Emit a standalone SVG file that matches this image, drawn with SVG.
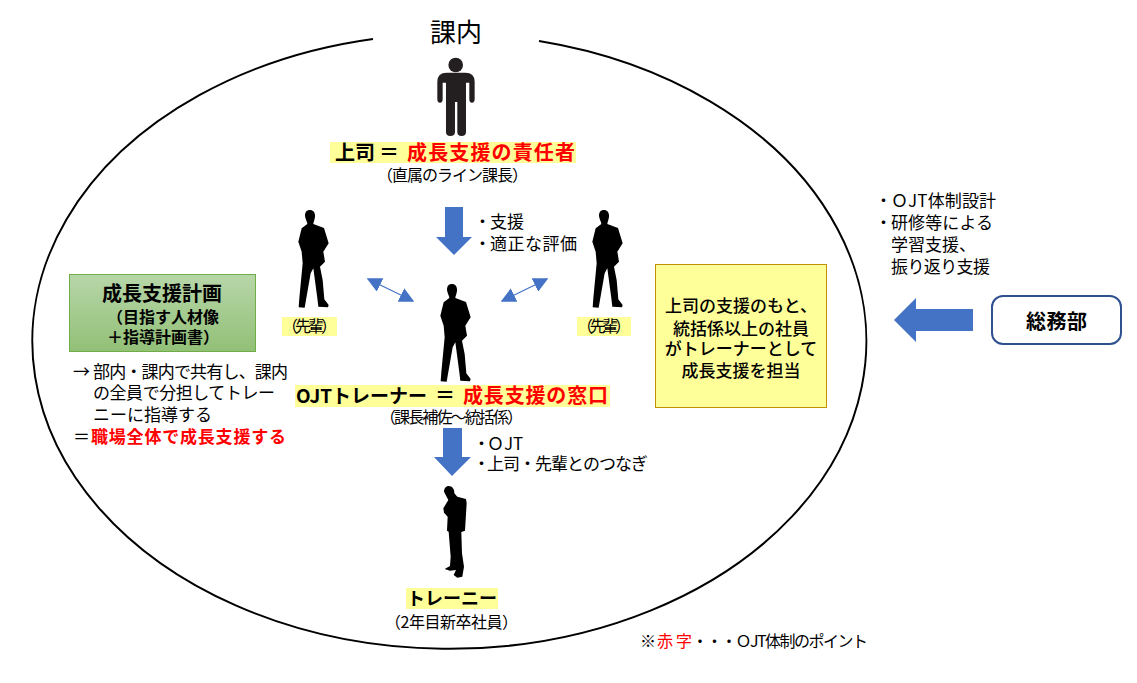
<svg xmlns="http://www.w3.org/2000/svg" width="1137" height="683" viewBox="0 0 1137 683">
<style>
text{font-family:"Noto Sans CJK JP","Noto Sans",sans-serif;font-size:17px;fill:#000}
.b{font-weight:700}
.m{font-weight:500}
.r{fill:#f00}
.c{text-anchor:middle}
.hl{fill:#ffff99}
.blue{fill:#4472c4}
.dbl{stroke:#4472c4;stroke-width:1.2;fill:none;marker-start:url(#tri);marker-end:url(#tri)}
</style>
<defs>
<marker id="tri" viewBox="0 0 10 10" refX="9" refY="5" markerWidth="15" markerHeight="15" markerUnits="userSpaceOnUse" orient="auto-start-reverse"><path d="M0 0L10 5L0 10Z" fill="#4472c4"/></marker>
<linearGradient id="green" x1="0" y1="0" x2="0" y2="1"><stop offset="0" stop-color="#b7d6a9"/><stop offset="1" stop-color="#92c077"/></linearGradient>
<path id="man" d="M90 30C100 30 106 38 105 50C104 60 100 66 100 72L132 84L146 130L130 155L135 185L120 200L128 240L133 298L146 315L144 322L115 320L112 295L100 205L92 220L78 300L74 323L56 322L58 295L68 190L65 155L55 125L65 85L82 72C82 65 76 58 75 48C75 36 80 30 90 30Z" fill="#000"/>
</defs>
<rect width="1137" height="683" fill="#fff"/>

<g id="connectors">
<path id="circle" d="M539 41A417 307.5 0 1 1 373 39" fill="none" stroke="#000" stroke-width="2"/>
<path class="blue" d="M445 207H463V237H472L454 255L436 237H445Z"/>
<path class="blue" d="M443 428H462V457H471L452 476L434 457H443Z"/>
<path class="blue" d="M973 309V331H916V342L894 320L916 298V309Z"/>
<line class="dbl" x1="368" y1="279" x2="413" y2="301"/>
<line class="dbl" x1="547" y1="279" x2="502" y2="301"/>
</g>

<g id="title"><text x="430" y="42" style="font-size:26px">課内</text></g>

<g id="boss">
<circle cx="455.7" cy="65" r="7.3" fill="#231f20"/>
<path transform="translate(280 0) scale(.3333)" fill="#231f20" d="M500 218H556Q584 218 584 245V298Q584 308 576 308Q568 308 568 298V248H558V396Q558 408 545 408Q532 408 532 396V306H525V396Q525 408 511 408Q498 408 498 396V248H488V298Q488 308 480 308Q472 308 472 298V245Q472 218 500 218Z"/>
<rect class="hl" x="330" y="142" width="246" height="21"/>
<text class="b" x="335" y="160" style="font-size:20px" textLength="40">上司</text>
<text class="b" x="379" y="160" style="font-size:20px">＝</text>
<text class="b r" x="407" y="160" style="font-size:20px" textLength="168">成長支援の責任者</text>
<text x="377" y="181" style="font-size:16px" textLength="151">（直属のライン課長）</text>
</g>

<g id="senior-left">
<use href="#man" transform="translate(280 200) scale(.3333)"/>
<rect class="hl" x="282" y="317" width="55" height="19"/>
<text x="282" y="332" style="font-size:16px" textLength="55">（先輩）</text>
</g>

<g id="senior-right">
<use href="#man" transform="translate(574 200) scale(.3333)"/>
<rect class="hl" x="577" y="317" width="54" height="19"/>
<text x="577" y="332" style="font-size:16px" textLength="54">（先輩）</text>
</g>

<g id="trainer">
<use href="#man" transform="translate(422 274) scale(.3333)"/>
<rect class="hl" x="295" y="385" width="315" height="22"/>
<text class="b" x="296" y="403" style="font-size:19px" textLength="131">OJTトレーナー</text>
<text class="b" x="435" y="403" style="font-size:20px">＝</text>
<text class="b r" x="463" y="403" style="font-size:20px" textLength="145">成長支援の窓口</text>
<text x="380" y="423" style="font-size:16px" textLength="143">（課長補佐～統括係）</text>
</g>

<g id="trainee">
<path transform="translate(370 420) scale(.3333)" fill="#000" d="M236 198C247 198 254 208 253 220L262 230L288 237L290 250L285 332L274 336L276 400L282 440L277 470L262 473L251 465L258 450L240 452L224 447L240 438L242 410L236 335L231 332L233 290L222 278L220 265L235 240L222 215C222 205 228 198 236 198Z"/>
<rect class="hl" x="406" y="588" width="92" height="21"/>
<text class="b" x="407" y="605" style="font-size:18px" textLength="90">トレーニー</text>
<text x="385" y="628" style="font-size:16px" textLength="133">（2年目新卒社員）</text>
</g>

<g id="label-support">
<text x="474" y="228">・<tspan x="490">支援</tspan></text>
<text x="474" y="250">・<tspan x="490" textLength="87">適正な評価</tspan></text>
</g>

<g id="label-ojt">
<text x="473" y="450">・<tspan x="487">ＯJT</tspan></text>
<text x="473" y="470">・<tspan x="487" textLength="161">上司・先輩とのつなぎ</tspan></text>
</g>

<g id="plan">
<rect x="69.500" y="274.500" width="186" height="77" fill="url(#green)" stroke="#70ad47"/>
<text class="b c" x="162" y="301" style="font-size:20px">成長支援計画</text>
<text class="b c" x="163" y="323" style="font-size:16px">（目指す人材像</text>
<text class="b c" x="163" y="343" style="font-size:16px">＋指導計画書）</text>
</g>

<g id="plan-note">
<text x="73" y="378">→<tspan x="93" textLength="195">部内・課内で共有し、課内</tspan></text>
<text x="93" y="399" textLength="182">の全員で分担してトレー</text>
<text x="93" y="421">ニーに指導する</text>
<text x="73" y="443">＝<tspan class="b r" x="91" textLength="195">職場全体で成長支援する</tspan></text>
</g>

<g id="yellow-box">
<rect x="655.500" y="264.500" width="171" height="143" class="hl" stroke="#bf9000"/>
<text class="m c" x="741" y="312">上司の支援のもと、</text>
<text class="m c" x="741" y="335">統括係以上の社員</text>
<text class="m c" x="741" y="355">がトレーナーとして</text>
<text class="m c" x="741" y="377">成長支援を担当</text>
</g>

<g id="somu">
<rect x="992" y="296" width="129" height="48" rx="11" fill="#fff" stroke="#2f528f" stroke-width="2"/>
<text class="b" x="1026" y="329" style="font-size:20px" textLength="61">総務部</text>
</g>

<g id="somu-list">
<text x="875" y="207">・<tspan x="891" textLength="105">ＯJT体制設計</tspan></text>
<text x="875" y="229">・<tspan x="891" textLength="102">研修等による</tspan></text>
<text x="891" y="251">学習支援、</text>
<text x="891" y="273" textLength="99">振り返り支援</text>
</g>

<g id="footnote">
<text x="640" y="647" style="font-size:16px">※<tspan class="r" x="657" textLength="35">赤字</tspan><tspan x="692" textLength="176">・・・ＯJT体制のポイント</tspan></text>
</g>
</svg>
